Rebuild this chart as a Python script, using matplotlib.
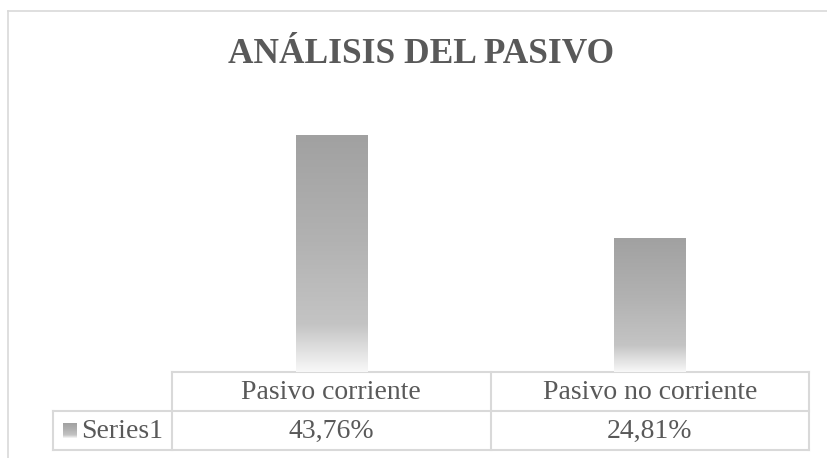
import matplotlib.pyplot as plt
import numpy as np
from matplotlib.colors import LinearSegmentedColormap

plt.rcParams['font.family'] = ['Liberation Serif', 'DejaVu Serif']

# datos
title = 'ANÁLISIS DEL PASIVO'
categories = ['Pasivo corriente', 'Pasivo no corriente']
values = [43.76, 24.81]
series_name = 'Series1'

W, H = 827, 458
grey = '#595959'
line_c = '#d9d9d9'

fig = plt.figure(figsize=(W / 100, H / 100), dpi=100)

# capa de fondo en pixeles (marco, tabla, textos)
axo = fig.add_axes([0, 0, 1, 1])
axo.set_xlim(0, W)
axo.set_ylim(H, 0)
axo.axis('off')

# area de grafico en pixeles
left, right, top, base = 172, 809, 102, 372
ax = fig.add_axes([left / W, 1 - base / H, (right - left) / W, (base - top) / H])
ax.set_zorder(2)
ax.patch.set_alpha(0)

# degradado tipo Excel
cmap = LinearSegmentedColormap.from_list('g', [(0, '#a1a1a1'), (0.45, '#b2b2b2'),
                                             (0.8, '#c4c4c4'), (1, '#f8f8f8')])
grad = np.linspace(0, 1, 256).reshape(-1, 1)

x = np.arange(len(categories))
bars = ax.bar(x, values, width=0.223, color='none', edgecolor='none')
for b in bars:
    x0, w, h = b.get_x(), b.get_width(), b.get_height()
    ax.imshow(grad, extent=[x0, x0 + w, 0, h], aspect='auto', cmap=cmap,
              vmin=0, vmax=1, zorder=2, interpolation='bilinear')
ax.set_xlim(-0.5, len(categories) - 0.5)
ax.set_ylim(0, 50)
ax.axis('off')

# marco del grafico
axo.plot([7.5, 7.5], [H, 10.5], color=line_c, lw=1.2)
axo.plot([7.5, W], [10.5, 10.5], color=line_c, lw=1.2)

# titulo
axo.text(421, 63, title, ha='center', va='baseline', fontsize=25.5,
         fontweight='bold', color=grey)

# tabla de datos
row0, row1, row2 = base, 411, 450
lab_left = 53
cw = (right - left) / len(categories)
edges = [left + i * cw for i in range(len(categories) + 1)]

axo.plot([left, right], [row0, row0], color=line_c, lw=1.5)
axo.plot([lab_left, right], [row1, row1], color=line_c, lw=1.5)
axo.plot([lab_left, right], [row2, row2], color=line_c, lw=1.5)
axo.plot([lab_left, lab_left], [row1, row2], color=line_c, lw=1.5)
for e in edges:
    axo.plot([e, e], [row0, row2], color=line_c, lw=1.5)

for i, (cat, v) in enumerate(zip(categories, values)):
    cx = (edges[i] + edges[i + 1]) / 2
    axo.text(cx, 399, cat, ha='center', va='baseline', fontsize=20, color=grey)
    axo.text(cx, 438, f'{v:.2f}%'.replace('.', ','), ha='center', va='baseline',
             fontsize=20, color=grey)

# clave de leyenda
axo.imshow(grad, extent=[63, 77, 438, 423], aspect='auto', cmap=cmap,
           vmin=0, vmax=1, zorder=3)
axo.set_xlim(0, W)
axo.set_ylim(H, 0)
axo.text(81, 438, series_name, ha='left', va='baseline', fontsize=20, color=grey)

plt.savefig('out.png', dpi=100)
